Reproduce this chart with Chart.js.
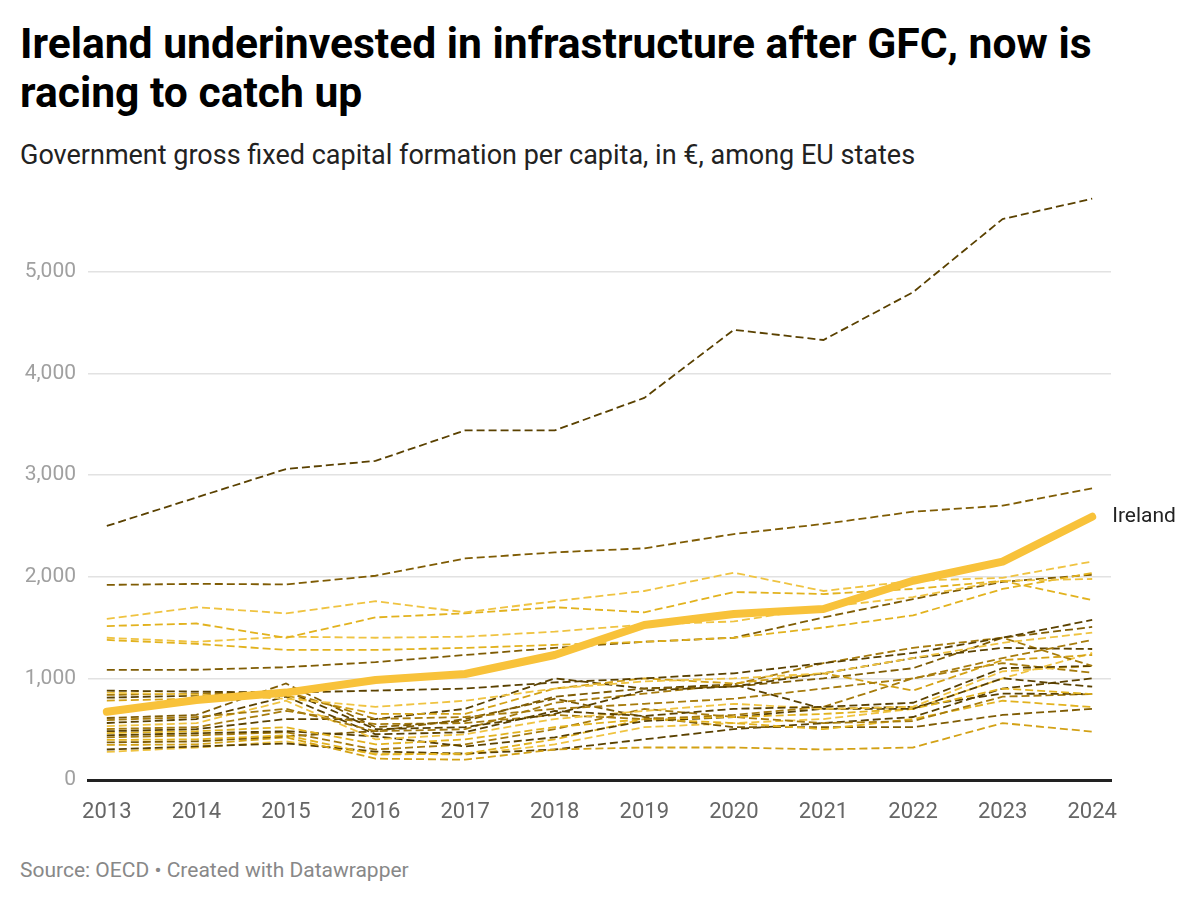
<!DOCTYPE html>
<html>
<head>
<meta charset="utf-8">
<script src="https://cdn.jsdelivr.net/npm/chart.js@4.4.1/dist/chart.umd.min.js"></script>
<style>
  body { margin: 0; background: #fff; font-family: Roboto, "Noto Sans", sans-serif; }
  #wrap { position: relative; width: 1200px; height: 902px; overflow: hidden; }
  h1 { position: absolute; left: 20px; top: 19px; margin: 0; width: 1110px; font-size: 42.6px; line-height: 49px; font-weight: 700; color: #000; }
  .sub { position: absolute; left: 20px; top: 142px; font-size: 27px; line-height: 27px; color: #222; }
  .foot { position: absolute; left: 20px; top: 860px; font-size: 21px; line-height: 21px; color: #888; }
  #box { position: absolute; left: 0; top: 166px; width: 1200px; height: 664px; }
</style>
</head>
<body>
<div id="wrap">
  <h1>Ireland underinvested in infrastructure after GFC, now is racing to catch up</h1>
  <div class="sub">Government gross fixed capital formation per capita, in €, among EU states</div>
  <div id="box"><canvas id="chart"></canvas></div>
  <div class="foot">Source: OECD • Created with Datawrapper</div>
</div>
<script>
// years on the x axis
const years = [2013, 2014, 2015, 2016, 2017, 2018, 2019, 2020, 2021, 2022, 2023, 2024];
const yTicks = [0, 1000, 2000, 3000, 4000, 5000];

// highlighted country
const ireland = [672, 787, 860, 984, 1043, 1230, 1526, 1634, 1683, 1961, 2149, 2591];

// other EU states (approximate)
const others = [
  [2500, 2780, 3060, 3140, 3440, 3440, 3760, 4430, 4330, 4800, 5520, 5720],
  [1920, 1930, 1925, 2010, 2180, 2240, 2280, 2420, 2520, 2640, 2700, 2870],
  [1585, 1700, 1640, 1760, 1650, 1760, 1860, 2040, 1860, 1960, 1990, 2150],
  [1515, 1540, 1400, 1600, 1640, 1700, 1650, 1850, 1830, 1880, 1960, 1770],
  [1400, 1360, 1410, 1400, 1410, 1460, 1530, 1560, 1700, 1800, 1960, 1978],
  [1378, 1340, 1280, 1280, 1300, 1330, 1360, 1400, 1500, 1620, 1880, 2037],
  [1083, 1085, 1110, 1160, 1230, 1300, 1360, 1400, 1600, 1780, 1950, 2020],
  [879, 870, 860, 880, 900, 960, 1000, 1050, 1150, 1250, 1400, 1575],
  [860, 840, 800, 720, 780, 900, 970, 1000, 1050, 1200, 1350, 1450],
  [837, 850, 870, 600, 620, 700, 750, 800, 900, 1000, 1200, 1378],
  [810, 830, 880, 500, 520, 650, 880, 920, 1050, 1200, 1300, 1289],
  [781, 800, 830, 650, 650, 900, 1000, 950, 1050, 880, 1180, 1230],
  [610, 640, 950, 520, 580, 820, 900, 920, 1000, 1100, 1400, 1506],
  [590, 620, 700, 480, 500, 760, 850, 940, 1150, 1300, 1400, 1122],
  [561, 600, 820, 450, 470, 680, 630, 700, 720, 760, 1100, 1122],
  [530, 560, 780, 400, 450, 600, 680, 750, 700, 720, 1070, 1122],
  [502, 520, 680, 550, 560, 640, 600, 640, 720, 1000, 1150, 1056],
  [480, 500, 600, 600, 700, 1000, 900, 940, 700, 700, 1000, 918],
  [462, 480, 520, 350, 400, 520, 600, 620, 650, 700, 900, 846],
  [440, 460, 480, 430, 330, 420, 580, 620, 700, 720, 850, 846],
  [420, 440, 470, 300, 350, 500, 700, 620, 560, 580, 820, 846],
  [394, 400, 440, 250, 260, 400, 600, 560, 500, 600, 780, 718],
  [370, 380, 430, 480, 600, 800, 620, 520, 520, 520, 640, 700],
  [345, 350, 420, 210, 200, 300, 320, 320, 300, 320, 560, 476],
  [300, 330, 360, 280, 260, 300, 400, 500, 560, 620, 900, 1000],
  [276, 320, 380, 260, 250, 350, 520, 560, 600, 700, 1000, 1250]
];
const shades = ['#5a4100', '#e2b21e', '#7f5c04', '#efc341', '#a67b0c', '#d3a115'];
const otherShade = [0, 2, 3, 1, 3, 1, 2, 0, 3, 4, 0, 5, 2, 4, 0, 3, 4, 0, 1, 0, 4, 1, 2, 5, 0, 3];

const toPoints = vals => vals.map((v, i) => ({ x: years[i], y: v }));

const datasets = [{
  label: 'Ireland',
  data: toPoints(ireland),
  borderColor: '#f8c23a',
  borderWidth: 8,
  borderCapStyle: 'round',
  borderJoinStyle: 'round',
  pointRadius: 0
}];
others.forEach((vals, i) => {
  datasets.push({
    label: 'country ' + (i + 1),
    data: toPoints(vals),
    borderColor: shades[otherShade[i]],
    borderWidth: 1.8,
    borderDash: [8, 4],
    pointRadius: 0
  });
});

// label at the end of the Ireland line
const endLabel = {
  id: 'endLabel',
  afterDraw(chart) {
    const meta = chart.getDatasetMeta(0);
    const pt = meta.data[meta.data.length - 1];
    const c = chart.ctx;
    c.save();
    c.font = '21px Roboto';
    c.fillStyle = '#222';
    c.textBaseline = 'middle';
    c.fillText('Ireland', pt.x + 20, pt.y);
    c.restore();
  }
};

new Chart(document.getElementById('chart'), {
  type: 'line',
  data: { datasets },
  options: {
    responsive: true,
    maintainAspectRatio: false,
    animation: false,
    layout: { padding: { top: 0, right: 89, left: 0, bottom: 0 } },
    plugins: { legend: { display: false }, tooltip: { enabled: false } },
    scales: {
      x: {
        type: 'linear',
        min: 2012.79,
        max: 2024.21,
        grid: { display: false },
        border: { color: '#222', width: 3 },
        ticks: {
          stepSize: 1,
          includeBounds: false,
          padding: 11,
          color: '#666',
          font: { family: 'Roboto', size: 22 },
          callback: v => String(v)
        },
        afterFit: s => { s.height = 50; }
      },
      y: {
        min: 0,
        max: 5800,
        border: { display: false },
        grid: {
          drawTicks: false,
          color: ctx => ctx.tick.value === 0 ? 'rgba(0,0,0,0)' : '#e2e2e2',
          lineWidth: 1.5
        },
        ticks: {
          padding: 12,
          color: '#a0a0a0',
          font: { family: 'Roboto', size: 21 },
          callback: v => v.toLocaleString('en-US')
        },
        afterBuildTicks: s => { s.ticks = yTicks.map(v => ({ value: v })); },
        afterFit: s => { s.width = 88; }
      }
    }
  },
  plugins: [endLabel]
});
</script>
</body>
</html>
